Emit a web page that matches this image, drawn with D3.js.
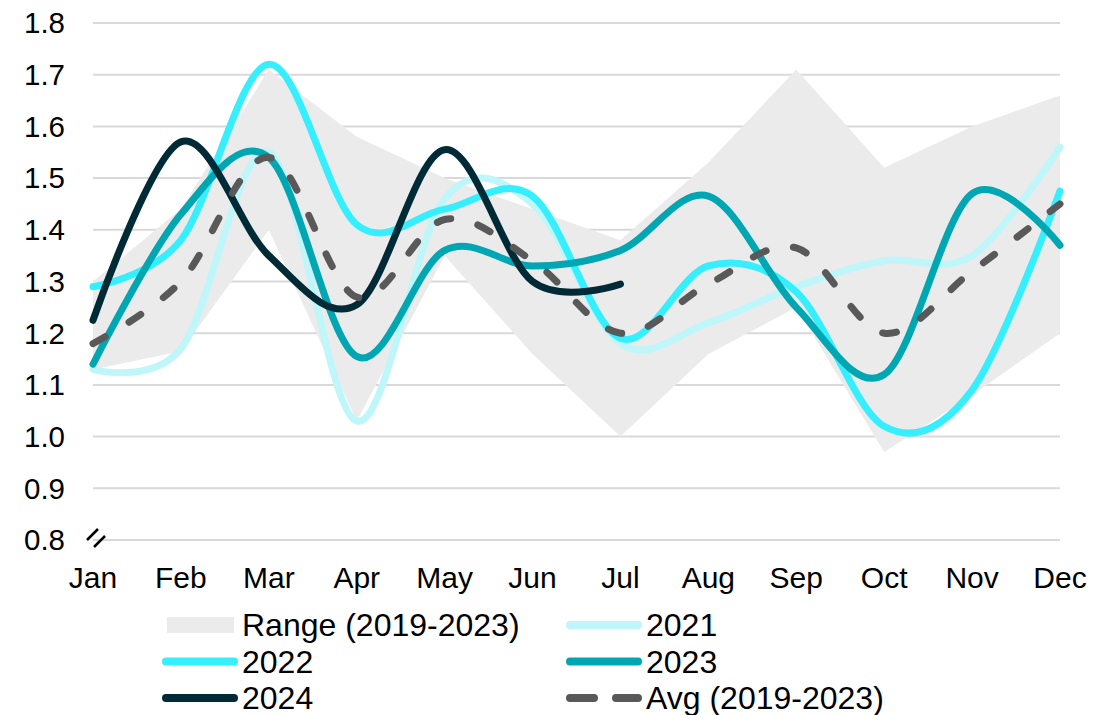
<!DOCTYPE html>
<html>
<head>
<meta charset="utf-8">
<script src="https://cdn.jsdelivr.net/npm/d3@7"></script>
<style>
  body { margin: 0; background: #fff; }
  svg text { font-family: "Liberation Sans", Arial, sans-serif; fill: #000; }
</style>
</head>
<body>
<svg id="chart" width="1119" height="715"></svg>
<script>
const months = ['Jan', 'Feb', 'Mar', 'Apr', 'May', 'Jun', 'Jul', 'Aug', 'Sep', 'Oct', 'Nov', 'Dec'];
const yTicks = [0.8, 0.9, 1.0, 1.1, 1.2, 1.3, 1.4, 1.5, 1.6, 1.7, 1.8];

const rangeLow  = [1.13, 1.165, 1.40, 1.03, 1.35, 1.16, 1.00, 1.16, 1.25, 0.97, 1.08, 1.20];
const rangeHigh = [1.30, 1.44, 1.71, 1.58, 1.50, 1.44, 1.38, 1.53, 1.71, 1.52, 1.60, 1.66];

const y2021 = [1.13, 1.17, 1.55, 1.03, 1.46, 1.45, 1.18, 1.22, 1.29, 1.34, 1.35, 1.56];
const y2022 = [1.29, 1.38, 1.72, 1.41, 1.44, 1.465, 1.19, 1.33, 1.28, 1.02, 1.09, 1.475];
const y2023 = [1.14, 1.43, 1.54, 1.155, 1.36, 1.33, 1.36, 1.465, 1.25, 1.12, 1.47, 1.37];
const y2024 = [1.225, 1.57, 1.35, 1.255, 1.555, 1.30, 1.295];
const avg   = [1.18, 1.30, 1.54, 1.27, 1.42, 1.34, 1.20, 1.295, 1.365, 1.20, 1.32, 1.45];

const series = [
  { name: '2021', values: y2021, color: '#bff6fa' },
  { name: '2022', values: y2022, color: '#35efff' },
  { name: '2023', values: y2023, color: '#00a7b3' },
  { name: '2024', values: y2024, color: '#002a36' },
  { name: 'Avg (2019-2023)', values: avg, color: '#595959', dash: '14,28' }
];

const svg = d3.select('#chart');

const x = d3.scalePoint().domain(months).range([93, 1060]);
const y = d3.scaleLinear().domain([0.8, 1.8]).range([540, 23]);

// gridlines
svg.append('g')
  .selectAll('line')
  .data(yTicks)
  .enter()
  .append('line')
  .attr('x1', 93)
  .attr('x2', 1060)
  .attr('y1', d => y(d))
  .attr('y2', d => y(d))
  .attr('stroke', '#d9d9d9')
  .attr('stroke-width', 2);

// range band
const area = d3.area()
  .x((d, i) => x(months[i]))
  .y0((d, i) => y(rangeLow[i]))
  .y1(d => y(d));

svg.append('path')
  .datum(rangeHigh)
  .attr('d', area)
  .attr('fill', '#ebebeb');

// series lines
const line = d3.line()
  .x((d, i) => x(months[i]))
  .y(d => y(d))
  .curve(d3.curveCardinal.tension(0));

svg.append('g')
  .selectAll('path')
  .data(series)
  .enter()
  .append('path')
  .attr('d', d => line(d.values))
  .attr('fill', 'none')
  .attr('stroke', d => d.color)
  .attr('stroke-width', 7)
  .attr('stroke-linecap', 'round')
  .attr('stroke-linejoin', 'round')
  .attr('stroke-dasharray', d => d.dash || null);

// y axis labels
svg.append('g')
  .selectAll('text')
  .data(yTicks)
  .enter()
  .append('text')
  .attr('x', 65)
  .attr('y', d => y(d))
  .attr('dy', '0.35em')
  .attr('text-anchor', 'end')
  .attr('font-size', 29.5)
  .text(d => d.toFixed(1));

// x axis labels
svg.append('g')
  .selectAll('text')
  .data(months)
  .enter()
  .append('text')
  .attr('x', d => x(d))
  .attr('y', 588)
  .attr('text-anchor', 'middle')
  .attr('font-size', 30)
  .text(d => d);

// axis break marker
const brk = svg.append('g');
[[87, 540, 98, 529], [94, 547, 105, 536]].forEach(s => {
  brk.append('line')
    .attr('x1', s[0]).attr('y1', s[1]).attr('x2', s[2]).attr('y2', s[3])
    .attr('stroke', '#000').attr('stroke-width', 2.5);
});

// legend
const legendItems = [
  { name: 'Range (2019-2023)', type: 'rect', color: '#ebebeb', col: 0, row: 0 },
  { name: '2021', color: '#bff6fa', col: 1, row: 0 },
  { name: '2022', color: '#35efff', col: 0, row: 1 },
  { name: '2023', color: '#00a7b3', col: 1, row: 1 },
  { name: '2024', color: '#002a36', col: 0, row: 2 },
  { name: 'Avg (2019-2023)', color: '#595959', dash: '24,22', col: 1, row: 2 }
];

const legend = svg.append('g')
  .selectAll('g')
  .data(legendItems)
  .enter()
  .append('g')
  .attr('transform', d => `translate(${d.col ? 567 : 163}, ${625 + d.row * 36.5})`);

legend.filter(d => d.type === 'rect')
  .append('rect')
  .attr('x', 4).attr('y', -8).attr('width', 67).attr('height', 16)
  .attr('fill', d => d.color);

legend.filter(d => d.type !== 'rect')
  .append('line')
  .attr('x1', 3).attr('x2', 71).attr('y1', 0).attr('y2', 0)
  .attr('stroke', d => d.color)
  .attr('stroke-width', 8)
  .attr('stroke-linecap', 'round')
  .attr('stroke-dasharray', d => d.dash || null);

legend.append('text')
  .attr('x', 79)
  .attr('y', 0)
  .attr('dy', '0.35em')
  .attr('font-size', 32)
  .text(d => d.name);
</script>
</body>
</html>
